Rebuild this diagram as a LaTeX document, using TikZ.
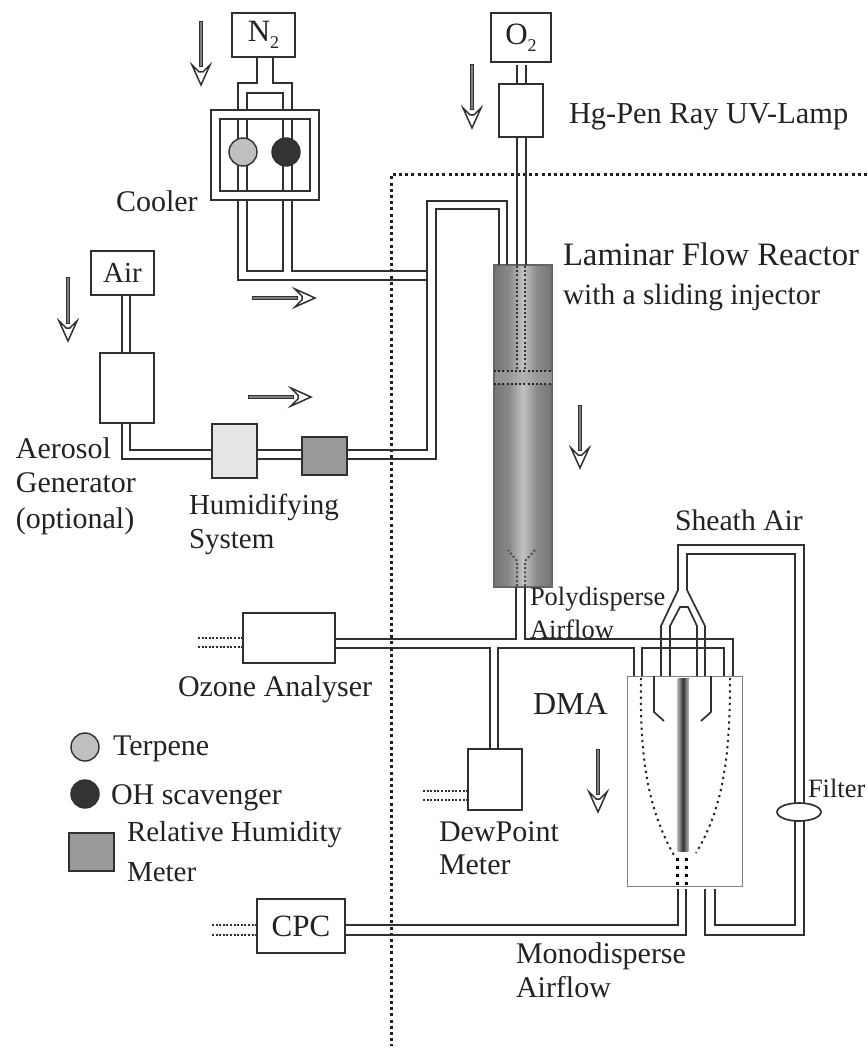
\documentclass[tikz,border=0pt]{standalone}
\usepackage{fontspec}
\setmainfont{Liberation Serif}
\usetikzlibrary{calc,shapes.geometric}
\definecolor{ink}{HTML}{303030}
\definecolor{txt}{HTML}{222222}
\pgfdeclarehorizontalshading{reactorshade}{100bp}{
  color(0bp)=(black!54); color(25bp)=(black!54); color(38bp)=(black!46); color(50bp)=(black!24);
  color(62bp)=(black!46); color(75bp)=(black!54); color(100bp)=(black!54)}
\tikzset{
  fs/.style={font=\fontsize{#1}{#1}\selectfont},
  lbl/.style={anchor=base west,inner sep=0pt,outer sep=0pt,text=txt},
  box/.style={draw=ink,line width=1.7pt,fill=white,inner sep=0pt,outer sep=0pt,text=txt},
  disc/.style={circle,draw=ink,line width=1.4pt,minimum size=28pt,inner sep=0pt,outer sep=0pt},
  pipe/.style={draw=ink,line width=1.7pt,line join=miter},
  dotline/.style={draw=ink,line width=2pt,dash pattern=on 2pt off 1.6pt},
  greydots/.style={draw=black!70,line width=2pt,dash pattern=on 2pt off 2.2pt},
  border/.style={draw=black!88,line width=3pt,dash pattern=on 3pt off 3.2pt},
  flowarrow/.pic={
    \draw[draw=ink,fill=black!50,line width=1pt] (-1.8,0) rectangle (1.8,45);
    \draw[draw=ink,fill=white,line width=1.5pt,line join=miter] (-9,43) -- (0,63) -- (9,43) -- (1.8,50) -- (-1.8,50) -- cycle;
  }
}
\begin{document}
\begin{tikzpicture}[x=1pt,y=-1pt]
\useasboundingbox (0,0) rectangle (867,1048);

% dotted enclosure
\coordinate (bordertop) at (867,175);
\coordinate (bordercorner) at (391,175);
\coordinate (borderend) at (391,1046);
\draw[border] (bordertop) -- (bordercorner) -- (borderend);

% reactor
\node[draw=black!60,line width=1.2pt,shading=reactorshade,minimum width=58pt,minimum height=322pt,inner sep=0pt,outer sep=0pt] (reactor) at (523,426) {};
\fill[black!35,opacity=.55] (494.5,371) rectangle (551.5,384);
\draw[greydots,draw=black!85] (494,371) -- (552,371);
\draw[greydots,draw=black!85] (494,384) -- (552,384);
\draw[greydots,draw=black!80] (517,266) -- (517,370);
\draw[greydots,draw=black!80] (525,266) -- (525,370);
\draw[greydots] (517,586) -- (517,561) -- (508,550);
\draw[greydots] (525,586) -- (525,561) -- (535,550);

% DMA column
\node[draw=black!50,line width=1pt,fill=white,minimum width=115pt,minimum height=210pt,inner sep=0pt,outer sep=0pt] (dma) at (684.5,781) {};
\fill[left color=black!30,right color=black!30,middle color=black!80] (677.5,678) rectangle (688.5,851);
\draw[greydots,draw=black!85,dash pattern=on 2.2pt off 4pt] (641,678) .. controls (640,750) and (645,805) .. (675,857);
\draw[greydots,draw=black!85,dash pattern=on 2.2pt off 4pt] (730,678) .. controls (730,750) and (725,805) .. (696,853);
\draw[pipe] (654,0 |- dma.north) -- (654,712) -- (664,721);
\draw[pipe] (711,0 |- dma.north) -- (711,712) -- (701,721);
\draw[line width=3pt,draw=black,dash pattern=on 3pt off 5pt] (677.5,858) -- (677.5,886);
\draw[line width=3pt,draw=black,dash pattern=on 3pt off 5pt] (686,858) -- (686,886);

% boxes
\node[box,minimum width=63pt,minimum height=44pt,fs=31] (n2) at (263.5,35) {N\raisebox{-.22em}{\fontsize{18}{18}\selectfont 2}};
\node[box,minimum width=60pt,minimum height=49pt,fs=31] (o2) at (521,37.5) {O\raisebox{-.22em}{\fontsize{18}{18}\selectfont 2}};
\node[box,minimum width=44pt,minimum height=53pt] (lamp) at (521,110.5) {};
\node[box,minimum width=108pt,minimum height=90pt] (cooler) at (265,155) {};
\node[box,minimum width=90pt,minimum height=72pt] (coolerin) at (265,155) {};
\node[box,minimum width=63pt,minimum height=44pt,fs=29] (air) at (122.5,273) {Air};
\node[box,minimum width=54pt,minimum height=70pt] (aero) at (127,388) {};
\node[box,fill=black!10,minimum width=45pt,minimum height=54pt] (humid) at (234.5,451) {};
\node[box,fill=black!40,minimum width=45pt,minimum height=38pt] (rh) at (324.5,456) {};
\node[box,minimum width=92pt,minimum height=50pt] (ozone) at (289,638) {};
\node[box,minimum width=54pt,minimum height=61pt] (dew) at (495,779.5) {};
\node[box,minimum width=88pt,minimum height=54pt,fs=31] (cpc) at (301,926) {CPC};

% N2 to cooler
\draw[pipe] (257,0 |- n2.south) -- (257,83) -- (238,83) -- (238,0 |- cooler.north);
\draw[pipe] (273,0 |- n2.south) -- (273,83) -- (292,83) -- (292,0 |- cooler.north);
\draw[pipe] (247,0 |- cooler.north) -- (247,93) -- (283,93) -- (283,0 |- cooler.north);
% through cooler
\foreach \px in {238,247,283,292}
  \draw[pipe] (\px,0 |- coolerin.north) -- (\px,0 |- coolerin.south);
\node[disc,fill=black!25] (terp) at (243,152) {};
\node[disc,fill=black!80] (oh) at (286,152) {};
% cooler to main line
\coordinate (mainA) at (427,271);
\coordinate (mainB) at (427,280);
\draw[pipe] (238,0 |- cooler.south) |- (mainB);
\draw[pipe] (247,0 |- cooler.south) -- (247,271) -- (283,271) -- (283,0 |- cooler.south);
\draw[pipe] (292,0 |- cooler.south) |- (mainA);
% O2 to lamp to reactor
\draw[pipe] (517,65) -- (517,0 |- lamp.north);
\draw[pipe] (526,65) -- (526,0 |- lamp.north);
\draw[pipe] (517,0 |- lamp.south) -- (517,0 |- reactor.north);
\draw[pipe] (526,0 |- lamp.south) -- (526,0 |- reactor.north);
% main line to reactor
\draw[pipe] (0,450 -| rh.east) -- (427,450) -- (427,201) -- (507,201) -- (507,0 |- reactor.north);
\draw[pipe] (0,459 -| rh.east) -- (436,459) -- (436,209) -- (499,209) -- (499,0 |- reactor.north);
% air, aerosol, humidifier
\draw[pipe] (122,0 |- air.south) -- (122,0 |- aero.north);
\draw[pipe] (130,0 |- air.south) -- (130,0 |- aero.north);
\draw[pipe] (122,0 |- aero.south) -- (122,459) -- (0,459 -| humid.west);
\draw[pipe] (130,0 |- aero.south) -- (130,450) -- (0,450 -| humid.west);
\draw[pipe] (0,450 -| humid.east) -- (0,450 -| rh.west);
\draw[pipe] (0,459 -| humid.east) -- (0,459 -| rh.west);
% reactor outlet
\draw[pipe] (516,0 |- reactor.south) -- (516,639) -- (0,639 -| ozone.east);
\draw[pipe] (525,0 |- reactor.south) -- (525,639) -- (733,639) -- (733,0 |- dma.north);
\draw[pipe] (0,648 -| ozone.east) -- (490,648) -- (490,0 |- dew.north);
\draw[pipe] (498,0 |- dew.north) -- (498,648) -- (634,648) -- (634,0 |- dma.north);
\draw[pipe] (642,0 |- dma.north) -- (642,648) -- (724,648) -- (724,0 |- dma.north);
% sheath air
\node[draw=ink,line width=1.7pt,fill=white,ellipse,minimum width=44pt,minimum height=18pt,inner sep=0pt,outer sep=0pt] (filter) at (799,812) {};
\draw[pipe] (661,0 |- dma.north) -- (661,626) -- (678,590) -- (678,545) -- (804,545) -- (804,0 |- filter.north);
\draw[pipe] (705,0 |- dma.north) -- (705,626) -- (687,590) -- (687,554) -- (795,554) -- (795,0 |- filter.north);
\draw[pipe] (670,0 |- dma.north) -- (670,626) -- (680,607) -- (688,607) -- (697,626) -- (697,0 |- dma.north);
\draw[pipe] (795,0 |- filter.south) -- (795,925) -- (715,925) -- (715,889);
\draw[pipe] (804,0 |- filter.south) -- (804,935) -- (705,935) -- (705,889);
% monodisperse
\draw[pipe] (678,889) -- (678,925) -- (0,925 -| cpc.east);
\draw[pipe] (686,889) -- (686,935) -- (0,935 -| cpc.east);

% dotted instrument lines
\coordinate (ozL) at (198,0);
\coordinate (dwL) at (423,0);
\coordinate (cpL) at (212,0);
\draw[dotline] (ozL |- 0,638) -- (0,638 -| ozone.west);
\draw[dotline] (ozL |- 0,647) -- (0,647 -| ozone.west);
\draw[dotline] (dwL |- 0,791) -- (0,791 -| dew.west);
\draw[dotline] (dwL |- 0,800) -- (0,800 -| dew.west);
\draw[dotline] (cpL |- 0,925) -- (0,925 -| cpc.west);
\draw[dotline] (cpL |- 0,935) -- (0,935 -| cpc.west);

% flow arrows
\pic at (201,22) {flowarrow};
\pic at (472,65) {flowarrow};
\pic at (68,278) {flowarrow};
\pic at (580,405) {flowarrow};
\pic at (598,749) {flowarrow};
\pic[rotate=90] at (252,298) {flowarrow};
\pic[rotate=90] at (248,397) {flowarrow};

% legend
\node[disc,fill=black!25] (legterp) at (85,747) {};
\node[disc,fill=black!80] (legoh) at (85,794) {};
\node[box,fill=black!40,minimum width=45pt,minimum height=38pt] (legrh) at (91.5,852) {};

% labels
\node[lbl,fs=30.4] (tlamp) at (569,124) {Hg-Pen Ray UV-Lamp};
\node[lbl,fs=32.7] (tlfr) at (563,266) {Laminar Flow Reactor};
\node[lbl,fs=29.4] (tinj) at (563,305) {with a sliding injector};
\node[lbl,fs=30] (tcool) at (116,212) {Cooler};
\node[lbl,fs=30] (tae1) at (16,458) {Aerosol};
\node[lbl,fs=30] (tae2) at (16,492) {Generator};
\node[lbl,fs=30] (tae3) at (16,528) {(optional)};
\node[lbl,fs=29] (thu1) at (189,514) {Humidifying};
\node[lbl,fs=29] (thu2) at (189,548) {System};
\node[lbl,fs=29.7] (tsh) at (675,530) {Sheath Air};
\node[lbl,fs=26.5] (tpo1) at (530,605) {Polydisperse};
\node[lbl,fs=26.5] (tpo2) at (530,638) {Airflow};
\node[lbl,fs=30] (toz) at (178,696) {Ozone Analyser};
\node[lbl,fs=32] (tdma) at (533,714) {DMA};
\node[lbl,fs=30] (tte) at (113,755) {Terpene};
\node[lbl,fs=30] (toh) at (111,804) {OH scavenger};
\node[lbl,fs=29] (trh1) at (127,841) {Relative Humidity};
\node[lbl,fs=29] (trh2) at (127,881) {Meter};
\node[lbl,fs=30] (tdw1) at (439,841) {DewPoint};
\node[lbl,fs=30] (tdw2) at (439,874) {Meter};
\node[lbl,fs=26.5] (tfi) at (808,797) {Filter};
\node[lbl,fs=30] (tmo1) at (516,963) {Monodisperse};
\node[lbl,fs=30] (tmo2) at (516,997) {Airflow};
\end{tikzpicture}
\end{document}
